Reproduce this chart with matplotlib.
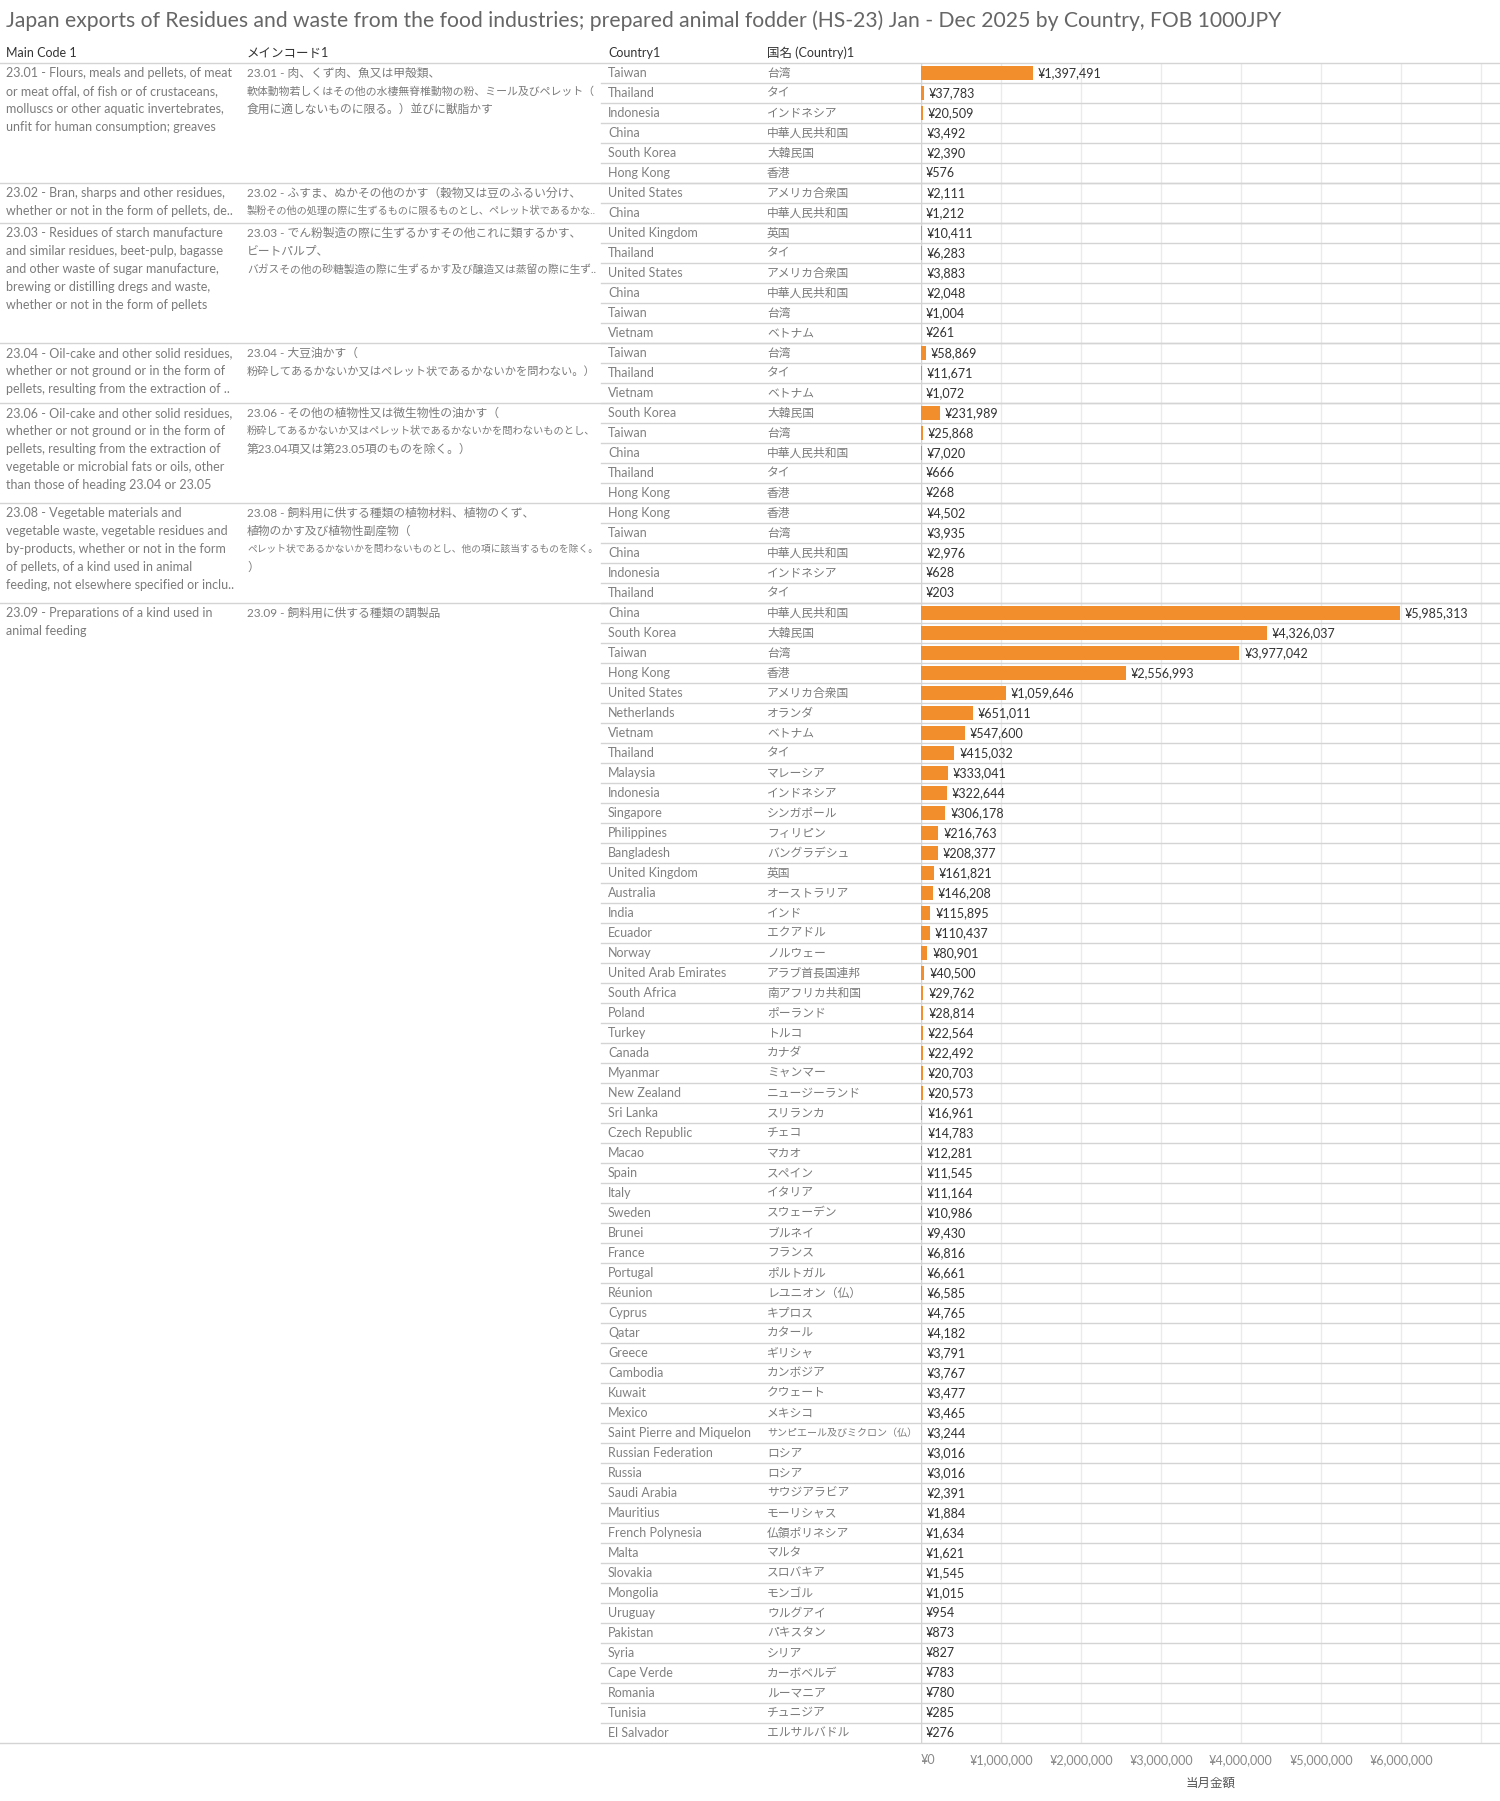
import matplotlib
matplotlib.use('Agg')
import matplotlib.pyplot as plt
import numpy as np
from matplotlib.lines import Line2D
from matplotlib.transforms import blended_transform_factory

plt.rcParams['font.family'] = ['Lato', 'Noto Sans CJK JP', 'DejaVu Sans']

title = "Japan exports of Residues and waste from the food industries; prepared animal fodder (HS-23) Jan - Dec 2025 by Country, FOB 1000JPY"
headers = ["Main Code 1", "メインコード1", "Country1", "国名 (Country)1"]

# HS groups: number of country rows and wrapped description lines
group_size = [6, 2, 6, 3, 5, 5, 57]
desc_en = [
    ["23.01 - Flours, meals and pellets, of meat", "or meat offal, of fish or of crustaceans,",
     "molluscs or other aquatic invertebrates,", "unfit for human consumption; greaves"],
    ["23.02 - Bran, sharps and other residues,", "whether or not in the form of pellets, de.."],
    ["23.03 - Residues of starch manufacture", "and similar residues, beet-pulp, bagasse",
     "and other waste of sugar manufacture,", "brewing or distilling dregs and waste,",
     "whether or not in the form of pellets"],
    ["23.04 - Oil-cake and other solid residues,", "whether or not ground or in the form of",
     "pellets, resulting from the extraction of .."],
    ["23.06 - Oil-cake and other solid residues,", "whether or not ground or in the form of",
     "pellets, resulting from the extraction of", "vegetable or microbial fats or oils, other",
     "than those of heading 23.04 or 23.05"],
    ["23.08 - Vegetable materials and", "vegetable waste, vegetable residues and",
     "by-products, whether or not in the form", "of pellets, of a kind used in animal",
     "feeding, not elsewhere specified or inclu.."],
    ["23.09 - Preparations of a kind used in", "animal feeding"],
]
desc_jp = [
    ["23.01 - 肉、くず肉、魚又は甲殻類、", "軟体動物若しくはその他の水棲無脊椎動物の粉、ミール及びペレット（",
     "食用に適しないものに限る。）並びに獣脂かす"],
    ["23.02 - ふすま、ぬかその他のかす（穀物又は豆のふるい分け、",
     "製粉その他の処理の際に生ずるものに限るものとし、ペレット状であるかな.."],
    ["23.03 - でん粉製造の際に生ずるかすその他これに類するかす、", "ビートパルプ、",
     "バガスその他の砂糖製造の際に生ずるかす及び醸造又は蒸留の際に生ず.."],
    ["23.04 - 大豆油かす（", "粉砕してあるかないか又はペレット状であるかないかを問わない。）"],
    ["23.06 - その他の植物性又は微生物性の油かす（", "粉砕してあるかないか又はペレット状であるかないかを問わないものとし、",
     "第23.04項又は第23.05項のものを除く。）"],
    ["23.08 - 飼料用に供する種類の植物材料、植物のくず、", "植物のかす及び植物性副産物（",
     "ペレット状であるかないかを問わないものとし、他の項に該当するものを除く。", "）"],
    ["23.09 - 飼料用に供する種類の調製品"],
]

country_en = [
    "Taiwan", "Thailand", "Indonesia", "China", "South Korea", "Hong Kong",
    "United States", "China",
    "United Kingdom", "Thailand", "United States", "China", "Taiwan", "Vietnam",
    "Taiwan", "Thailand", "Vietnam",
    "South Korea", "Taiwan", "China", "Thailand", "Hong Kong",
    "Hong Kong", "Taiwan", "China", "Indonesia", "Thailand",
    "China", "South Korea", "Taiwan", "Hong Kong", "United States", "Netherlands", "Vietnam",
    "Thailand", "Malaysia", "Indonesia", "Singapore", "Philippines", "Bangladesh",
    "United Kingdom", "Australia", "India", "Ecuador", "Norway", "United Arab Emirates",
    "South Africa", "Poland", "Turkey", "Canada", "Myanmar", "New Zealand", "Sri Lanka",
    "Czech Republic", "Macao", "Spain", "Italy", "Sweden", "Brunei", "France", "Portugal",
    "Réunion", "Cyprus", "Qatar", "Greece", "Cambodia", "Kuwait", "Mexico",
    "Saint Pierre and Miquelon", "Russian Federation", "Russia", "Saudi Arabia", "Mauritius",
    "French Polynesia", "Malta", "Slovakia", "Mongolia", "Uruguay", "Pakistan", "Syria",
    "Cape Verde", "Romania", "Tunisia", "El Salvador",
]
country_jp = [
    "台湾", "タイ", "インドネシア", "中華人民共和国", "大韓民国", "香港",
    "アメリカ合衆国", "中華人民共和国",
    "英国", "タイ", "アメリカ合衆国", "中華人民共和国", "台湾", "ベトナム",
    "台湾", "タイ", "ベトナム",
    "大韓民国", "台湾", "中華人民共和国", "タイ", "香港",
    "香港", "台湾", "中華人民共和国", "インドネシア", "タイ",
    "中華人民共和国", "大韓民国", "台湾", "香港", "アメリカ合衆国", "オランダ", "ベトナム",
    "タイ", "マレーシア", "インドネシア", "シンガポール", "フィリピン", "バングラデシュ",
    "英国", "オーストラリア", "インド", "エクアドル", "ノルウェー", "アラブ首長国連邦",
    "南アフリカ共和国", "ポーランド", "トルコ", "カナダ", "ミャンマー", "ニュージーランド", "スリランカ",
    "チェコ", "マカオ", "スペイン", "イタリア", "スウェーデン", "ブルネイ", "フランス", "ポルトガル",
    "レユニオン（仏）", "キプロス", "カタール", "ギリシャ", "カンボジア", "クウェート", "メキシコ",
    "サンピエール及びミクロン（仏）", "ロシア", "ロシア", "サウジアラビア", "モーリシャス",
    "仏領ポリネシア", "マルタ", "スロバキア", "モンゴル", "ウルグアイ", "パキスタン", "シリア",
    "カーボベルデ", "ルーマニア", "チュニジア", "エルサルバドル",
]
values = [
    1397491, 37783, 20509, 3492, 2390, 576,
    2111, 1212,
    10411, 6283, 3883, 2048, 1004, 261,
    58869, 11671, 1072,
    231989, 25868, 7020, 666, 268,
    4502, 3935, 2976, 628, 203,
    5985313, 4326037, 3977042, 2556993, 1059646, 651011, 547600,
    415032, 333041, 322644, 306178, 216763, 208377,
    161821, 146208, 115895, 110437, 80901, 40500,
    29762, 28814, 22564, 22492, 20703, 20573, 16961,
    14783, 12281, 11545, 11164, 10986, 9430, 6816, 6661,
    6585, 4765, 4182, 3791, 3767, 3477, 3465,
    3244, 3016, 3016, 2391, 1884,
    1634, 1621, 1545, 1015, 954, 873, 827,
    783, 780, 285, 276,
]
ticks = [0, 1000000, 2000000, 3000000, 4000000, 5000000, 6000000, 7000000]

W, H = 1500, 1801
top_px = 63
row_px = 20
x0_px = 921
px_per_m = 80.0
n = len(values)

fig = plt.figure(figsize=(W / 100, H / 100), dpi=100)
ax = fig.add_axes([x0_px / W, 1 - (top_px + n * row_px) / H, (W - x0_px) / W, n * row_px / H])
ax.set_ylim(n, 0)
ax.set_xlim(0, (W - x0_px) / px_per_m * 1e6)

ys = np.arange(n) + 0.5
ax.barh(ys, values, height=0.74, color='#F28E2B', zorder=3)
for y, v in zip(ys, values):
    ax.annotate(f'¥{v:,}', (v, y), xytext=(5, 0), textcoords='offset pixels',
                va='center', ha='left', fontsize=9, color='#333333', zorder=4)

ax.set_xticks(ticks)
ax.set_xticklabels([f'¥{t:,}' if t < 7000000 else '' for t in ticks])
ax.get_xticklabels()[0].set_ha('left')
ax.tick_params(axis='x', length=0, pad=8, labelsize=9, labelcolor='#888888')
ax.set_yticks([])
ax.grid(axis='x', color='#ebebeb', lw=1, zorder=0)
ax.axvline(0, color='#d4d4d4', lw=1, zorder=2)
for s in ax.spines.values():
    s.set_visible(False)
ax.set_xlabel('当月金額', fontsize=9, color='#555555', labelpad=8)

tr = blended_transform_factory(fig.transFigure, ax.transData)
renderer = fig.canvas.get_renderer()

def hline(xa, xb, y):
    fig.add_artist(Line2D([xa / W, xb / W], [y, y], transform=tr, color='#d4d4d4', lw=1))

def cell(x, y, s, size, color, max_w=None):
    # shrink the text when it is wider than its column
    t = fig.text(x / W, y, s, transform=tr, fontsize=size, color=color, va='center')
    if max_w is not None:
        w = t.get_window_extent(renderer).width
        if w > max_w:
            t.set_fontsize(size * max_w / w)
    return t

fig.text(6 / W, 1 - 21 / H, title, fontsize=15.2, color='#666666', va='center')

for x, h in zip([6, 247, 608, 767], headers):
    fig.text(x / W, -0.5, h, transform=tr, fontsize=9, color='#333333', va='center')

hline(0, W, 0)
for i in range(1, n):
    hline(601, W, i)

start = 0
for size, en, jp in zip(group_size, desc_en, desc_jp):
    hline(0, W, start + size)
    for k, line in enumerate(en):
        cell(6, start + 0.5 + 0.9 * k, line, 9, '#7b7b7b', 236)
    for k, line in enumerate(jp):
        cell(247, start + 0.5 + 0.9 * k, line, 8.5, '#7b7b7b', 348)
    start += size

for i in range(n):
    cell(608, i + 0.5, country_en[i], 9, '#808080', 155)
    cell(767, i + 0.5, country_jp[i], 8.5, '#7b7b7b', 150)

fig.savefig('out.png', dpi=100)
